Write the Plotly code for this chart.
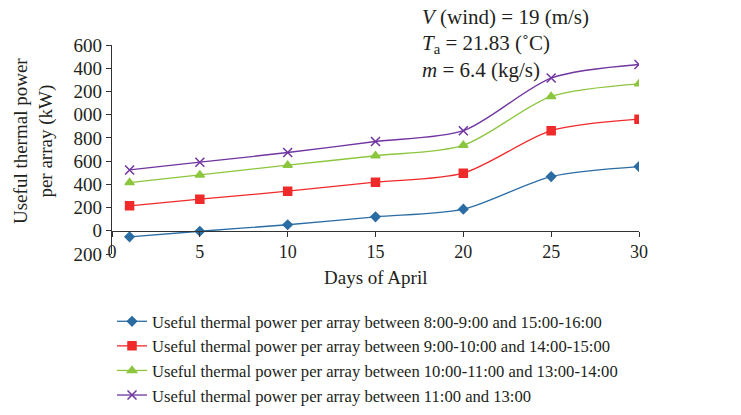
import plotly.graph_objects as go

days = [1, 5, 10, 15, 20, 25, 30]
s1 = [-52, -4, 52, 120, 186, 467, 553]
s2 = [215, 272, 341, 419, 496, 862, 961]
s3 = [415, 481, 565, 646, 736, 1157, 1266]
s4 = [524, 591, 674, 769, 862, 1315, 1432]
names = [
    "Useful thermal power per array between 8:00-9:00 and 15:00-16:00",
    "Useful thermal power per array between 9:00-10:00 and 14:00-15:00",
    "Useful thermal power per array between 10:00-11:00 and 13:00-14:00",
    "Useful thermal power per array between 11:00 and 13:00",
]
ytick_vals = [-200, 0, 200, 400, 600, 800, 1000, 1200, 1400, 1600]
ytick_text = ["200", "0", "200", "400", "600", "800", "000", "200", "400", "600"]
xtick_vals = [0, 5, 10, 15, 20, 25, 30]

colors = ["#2A6CA3", "#F02A2A", "#8CC63E", "#7035A0"]
symbols = ["diamond", "square", "triangle-up", "x-thin-open"]
sizes = [7, 8, 8, 9]
series = [s1, s2, s3, s4]

FONT = "Liberation Serif"
TXT = "#231F20"

fig = go.Figure()
for i, s in enumerate(series):
    fig.add_trace(go.Scatter(
        x=days, y=s, name=names[i], mode="lines+markers",
        line=dict(color=colors[i], width=1.3, shape="spline", smoothing=0.8),
        marker=dict(symbol=symbols[i], size=sizes[i], color=colors[i],
                    line=dict(color=colors[i], width=1.5)),
    ))

fig.update_layout(
    width=741, height=415,
    margin=dict(l=112, r=102, t=45, b=161),
    paper_bgcolor="white", plot_bgcolor="white",
    font=dict(family=FONT, color=TXT, size=19),
    showlegend=True,
    legend=dict(xref="paper", yref="container",
                x=0.0, y=1 - 304 / 415, xanchor="left", yanchor="top",
                font=dict(family=FONT, size=16.6, color=TXT),
                bgcolor="rgba(0,0,0,0)", tracegroupgap=0),
    xaxis=dict(range=[0, 30], tickvals=xtick_vals, showgrid=False, zeroline=False,
               showline=True, linecolor="#333", linewidth=1.2,
               ticks="outside", ticklen=5, tickcolor="#333",
               anchor="free", position=200/1800, automargin=False,
               tickfont=dict(size=18)),
    yaxis=dict(range=[-200, 1600], tickvals=ytick_vals, ticktext=ytick_text,
               showgrid=False, zeroline=False, showline=True, linecolor="#333",
               linewidth=1.2, ticks="outside", ticklen=5, tickcolor="#333",
               automargin=False, tickfont=dict(size=19)),
)

fig.add_annotation(text="Useful thermal power<br>per array (kW)", textangle=-90,
                   xref="paper", yref="paper", x=0, y=0.5, xanchor="center",
                   yanchor="middle", xshift=-78.5, yshift=8,
                   showarrow=False, font=dict(size=19), align="center")

fig.add_annotation(text="Days of April", xref="paper", yref="paper",
                   x=0.5, y=(254 - 277) / 209, xanchor="center", yanchor="middle",
                   showarrow=False, font=dict(size=19))

ann = ["<i>V</i> (wind) = 19 (m/s)",
       "<i>T</i><sub>a</sub> = 21.83 (˚C)",
       "<i>m</i> = 6.4 (kg/s)"]
ys = [17, 44, 70]
for t, yy in zip(ann, ys):
    fig.add_annotation(text=t, xref="paper", yref="paper",
                       x=(420 - 112) / 527, y=1 + (45 - yy) / 209,
                       xanchor="left", yanchor="middle", showarrow=False,
                       font=dict(size=21))

fig.write_html("out.html")
